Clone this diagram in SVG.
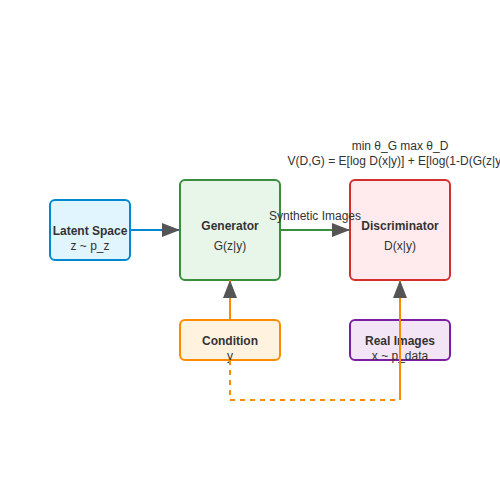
<svg xmlns="http://www.w3.org/2000/svg" width="500" height="500" viewBox="0 0 500 500">
<style>
text{font-family:"Liberation Sans",Arial,sans-serif;font-size:12px;fill:#333;text-anchor:middle}
.b{font-weight:bold}
.box{stroke-width:2}
</style>
<defs>
<marker id="ah" markerUnits="userSpaceOnUse" markerWidth="20" markerHeight="16" refX="18" refY="7" orient="auto">
<path d="M0,0 L18,7 L0,14 Z" fill="#555"/>
</marker>
</defs>
<rect width="500" height="500" fill="#fff"/>
<g id="formula">
<text x="400" y="150">min θ_G max θ_D</text>
<text x="402" y="165">V(D,G) = E[log D(x|y)] + E[log(1-D(G(z|y)))]</text>
</g>
<g id="latent">
<rect class="box" x="50" y="200" width="80" height="60" rx="5" fill="#e1f5fe" stroke="#0288d1"/>
<text class="b" x="90" y="235">Latent Space</text>
<text x="90" y="250">z ~ p_z</text>
</g>
<g id="generator">
<rect class="box" x="180" y="180" width="100" height="100" rx="5" fill="#e8f5e9" stroke="#388e3c"/>
<text class="b" x="230" y="230">Generator</text>
<text x="230" y="250">G(z|y)</text>
</g>
<g id="discriminator">
<rect class="box" x="350" y="180" width="100" height="100" rx="5" fill="#ffebee" stroke="#d32f2f"/>
<text class="b" x="400" y="230">Discriminator</text>
<text x="400" y="250">D(x|y)</text>
</g>
<g id="condition">
<rect class="box" x="180" y="320" width="100" height="40" rx="5" fill="#fff3e0" stroke="#fb8c00"/>
<text class="b" x="230" y="345">Condition</text>
<text x="230" y="360">y</text>
</g>
<g id="real">
<rect class="box" x="350" y="320" width="100" height="40" rx="5" fill="#f3e5f5" stroke="#7b1fa2"/>
<text class="b" x="400" y="345">Real Images</text>
<text x="400" y="360">x ~ p_data</text>
</g>
<g id="connectors" fill="none" stroke-width="2">
<line x1="130" y1="230" x2="180" y2="230" stroke="#0288d1" marker-end="url(#ah)"/>
<line x1="280" y1="230" x2="350" y2="230" stroke="#388e3c" marker-end="url(#ah)"/>
<text x="315" y="220" stroke="none">Synthetic Images</text>
<line x1="230" y1="320" x2="230" y2="280" stroke="#fb8c00" marker-end="url(#ah)"/>
<path d="M230,360 L230,400 L400,400" stroke="#fb8c00" stroke-dasharray="5,5"/>
<line x1="400" y1="400" x2="400" y2="280" stroke="#fb8c00" marker-end="url(#ah)"/>
</g>
</svg>
